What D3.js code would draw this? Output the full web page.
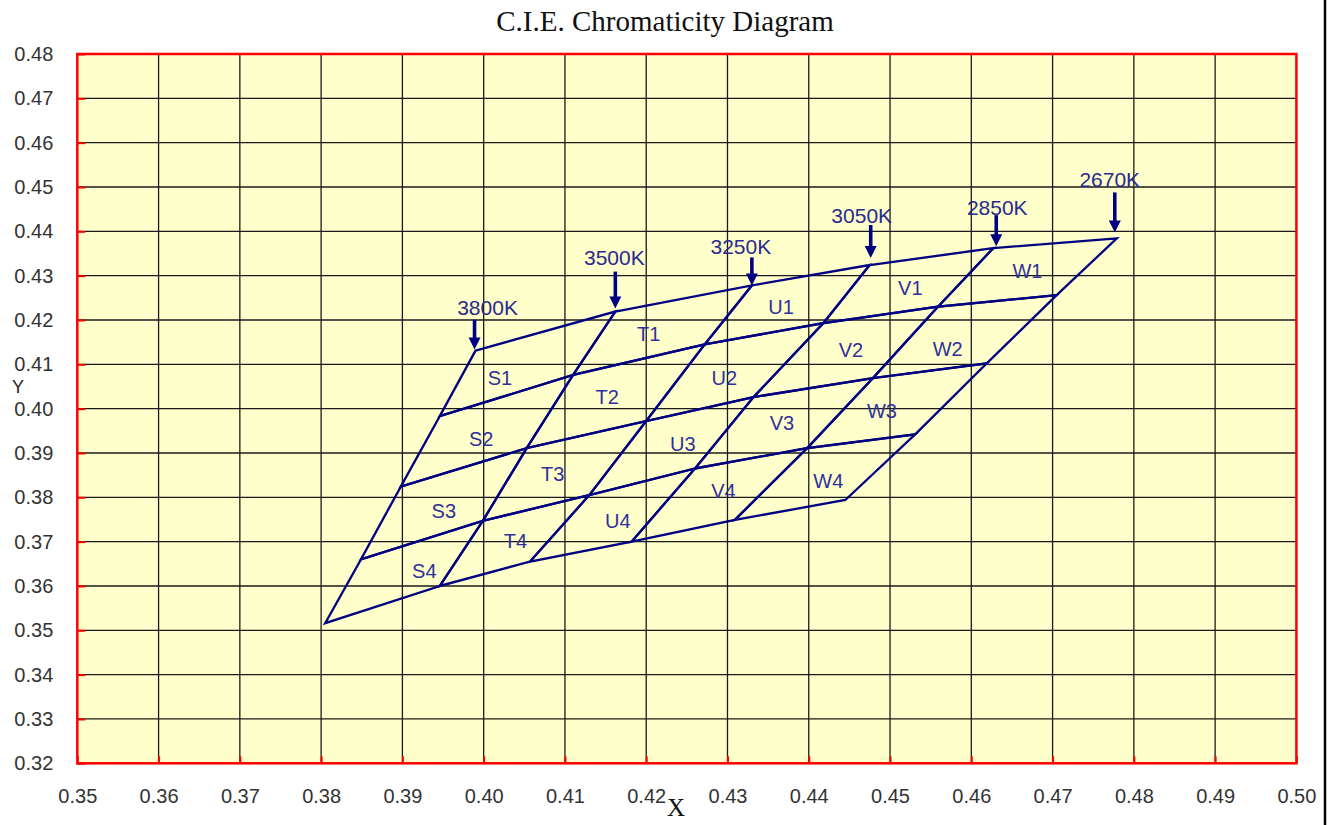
<!DOCTYPE html>
<html><head><meta charset="utf-8">
<script src="https://cdn.jsdelivr.net/npm/d3@7/dist/d3.min.js"></script>
<style>body{margin:0;background:#fff}</style>
</head><body>
<svg id="c" width="1333" height="825"></svg>
<script>
// ---------- data ----------
const xTicks = [0.35,0.36,0.37,0.38,0.39,0.40,0.41,0.42,0.43,0.44,0.45,0.46,0.47,0.48,0.49,0.50];
const yTicks = [0.32,0.33,0.34,0.35,0.36,0.37,0.38,0.39,0.40,0.41,0.42,0.43,0.44,0.45,0.46,0.47,0.48];
const cctLabels = ["3800K","3500K","3250K","3050K","2850K","2670K"];
// isotemperature boundary lines: 5 points each (top -> bottom)
const iso3800X = [0.3990,0.3946,0.3898,0.3849,0.3805];
const iso3800Y = [0.4131,0.3983,0.3824,0.3660,0.3516];
const iso3500X = [0.4162,0.4110,0.4053,0.3999,0.3946];
const iso3500Y = [0.4219,0.4076,0.3911,0.3747,0.3600];
const iso3250X = [0.4330,0.4272,0.4200,0.4130,0.4057];
const iso3250Y = [0.4278,0.4145,0.3972,0.3805,0.3655];
const iso3050X = [0.4475,0.4418,0.4332,0.4260,0.4182];
const iso3050Y = [0.4324,0.4193,0.4026,0.3865,0.3700];
const iso2850X = [0.4627,0.4559,0.4479,0.4398,0.4309];
const iso2850Y = [0.4362,0.4230,0.4069,0.3911,0.3749];
const iso2670X = [0.4779,0.4705,0.4619,0.4531,0.4445];
const iso2670Y = [0.4384,0.4256,0.4102,0.3942,0.3794];
const binNames = ["S1","S2","S3","S4","T1","T2","T3","T4","U1","U2","U3","U4","V1","V2","V3","V4","W1","W2","W3","W4"];
const binX = [0.4020,0.3997,0.3951,0.3927,0.4203,0.4152,0.4085,0.4039,0.4366,0.4296,0.4245,0.4165,0.4525,0.4452,0.4367,0.4295,0.4669,0.4571,0.4490,0.4424];
const binY = [0.4069,0.3932,0.3769,0.3634,0.4168,0.4026,0.3853,0.3701,0.4229,0.4069,0.3920,0.3747,0.4272,0.4132,0.3968,0.3814,0.4311,0.4134,0.3995,0.3837];

// ---------- layout / style ----------
const L = 77.3, R = 1296.4, T = 54, B = 763.3;
const navy = "#000080";
const labelOff = [[12,-43],[-1,-54],[-11,-39],[-8,-50],[4,-41],[-7,-59]];
const arrowTop = [-31,-40,-28,-40,-33,-46];
const arrowTip = [-1,-3,0,-7,-2,-6];
const arrowDx = [-1,0,0,1,3,-2];

const isoX = [iso3800X,iso3500X,iso3250X,iso3050X,iso2850X,iso2670X];
const isoY = [iso3800Y,iso3500Y,iso3250Y,iso3050Y,iso2850Y,iso2670Y];

const svg = d3.select("#c");
const x = d3.scaleLinear().domain([0.35,0.50]).range([L,R]);
const y = d3.scaleLinear().domain([0.32,0.48]).range([B,T]);
const sans = "Arial, 'Liberation Sans', sans-serif";
const serif = "'Times New Roman','Liberation Serif',serif";

svg.append("rect").attr("x",L).attr("y",T).attr("width",R-L).attr("height",B-T).attr("fill","#FFFFCC");

// grid
svg.append("g").selectAll("line").data(xTicks.slice(1,-1)).join("line")
  .attr("x1",d=>x(d)).attr("x2",d=>x(d)).attr("y1",T).attr("y2",B)
  .attr("stroke","#1a1a1a").attr("stroke-width",1.3);
svg.append("g").selectAll("line").data(yTicks.slice(1,-1)).join("line")
  .attr("y1",d=>y(d)).attr("y2",d=>y(d)).attr("x1",L).attr("x2",R)
  .attr("stroke","#1a1a1a").attr("stroke-width",1.3);

// axes with d3
const fmt = d3.format(".2f");
const xAxis = svg.append("g").attr("transform",`translate(0,${B})`)
  .call(d3.axisBottom(x).tickValues(xTicks).tickFormat(fmt).tickSizeInner(-7).tickSizeOuter(0).tickPadding(26));
const yAxis = svg.append("g").attr("transform",`translate(${L},0)`)
  .call(d3.axisLeft(y).tickValues(yTicks).tickFormat(fmt).tickSizeInner(-8).tickSizeOuter(0).tickPadding(24));
[xAxis,yAxis].forEach(a=>{
  a.select(".domain").remove();
  a.selectAll(".tick line").attr("stroke","#ff0000").attr("stroke-width",2);
  a.selectAll(".tick text").attr("font-family",sans).attr("font-size",20).attr("fill","#333");
});
// red frame
svg.append("rect").attr("x",L).attr("y",T).attr("width",R-L).attr("height",B-T)
  .attr("fill","none").attr("stroke","#ff0000").attr("stroke-width",2.5);

// bins (quadrangles)
const g = svg.append("g");
for (let c=0;c<5;c++){
  for (let r=0;r<4;r++){
    const pts = [
      [isoX[c][r],isoY[c][r]],[isoX[c+1][r],isoY[c+1][r]],
      [isoX[c+1][r+1],isoY[c+1][r+1]],[isoX[c][r+1],isoY[c][r+1]]
    ];
    g.append("path").attr("d",d3.line().x(p=>x(p[0])).y(p=>y(p[1])).curve(d3.curveLinearClosed)(pts))
      .attr("fill","none").attr("stroke",navy).attr("stroke-width",2.3).attr("stroke-linejoin","miter");
  }
}

// bin labels
svg.append("g").selectAll("text").data(binNames).join("text")
  .attr("x",(d,i)=>x(binX[i])).attr("y",(d,i)=>y(binY[i]))
  .attr("text-anchor","middle").attr("dominant-baseline","central")
  .attr("font-family",sans).attr("font-size",20)
  .attr("fill","#30309a").text(d=>d);

// CCT labels + arrows
cctLabels.forEach((lab,i)=>{
  const vx = x(isoX[i][0]), vy = y(isoY[i][0]);
  const ax = vx + arrowDx[i];
  const y0 = vy + arrowTop[i], y1 = vy + arrowTip[i];
  svg.append("line").attr("x1",ax).attr("x2",ax).attr("y1",y0).attr("y2",y1-9)
    .attr("stroke",navy).attr("stroke-width",3.6);
  svg.append("path").attr("d",`M${ax-6},${y1-12}L${ax+6},${y1-12}L${ax},${y1}Z`).attr("fill",navy);
  svg.append("text").attr("x",vx+labelOff[i][0]).attr("y",vy+labelOff[i][1])
    .attr("text-anchor","middle").attr("dominant-baseline","central")
    .attr("font-family",sans).attr("font-size",21)
    .attr("fill","#2a2a8e").text(lab);
});

// titles
svg.append("text").attr("x",665).attr("y",31).attr("text-anchor","middle")
  .attr("font-family",serif).attr("font-size",29)
  .attr("fill","#111").text("C.I.E. Chromaticity Diagram");
svg.append("text").attr("x",676).attr("y",816).attr("text-anchor","middle")
  .attr("font-family",serif).attr("font-size",25)
  .attr("fill","#111").text("X");
svg.append("text").attr("x",18).attr("y",393).attr("text-anchor","middle")
  .attr("font-family",sans).attr("font-size",18)
  .attr("fill","#222").text("Y");
// right edge line
svg.append("line").attr("x1",1325).attr("x2",1325).attr("y1",0).attr("y2",825)
  .attr("stroke","#000").attr("stroke-width",2.5);
</script>
</body></html>
